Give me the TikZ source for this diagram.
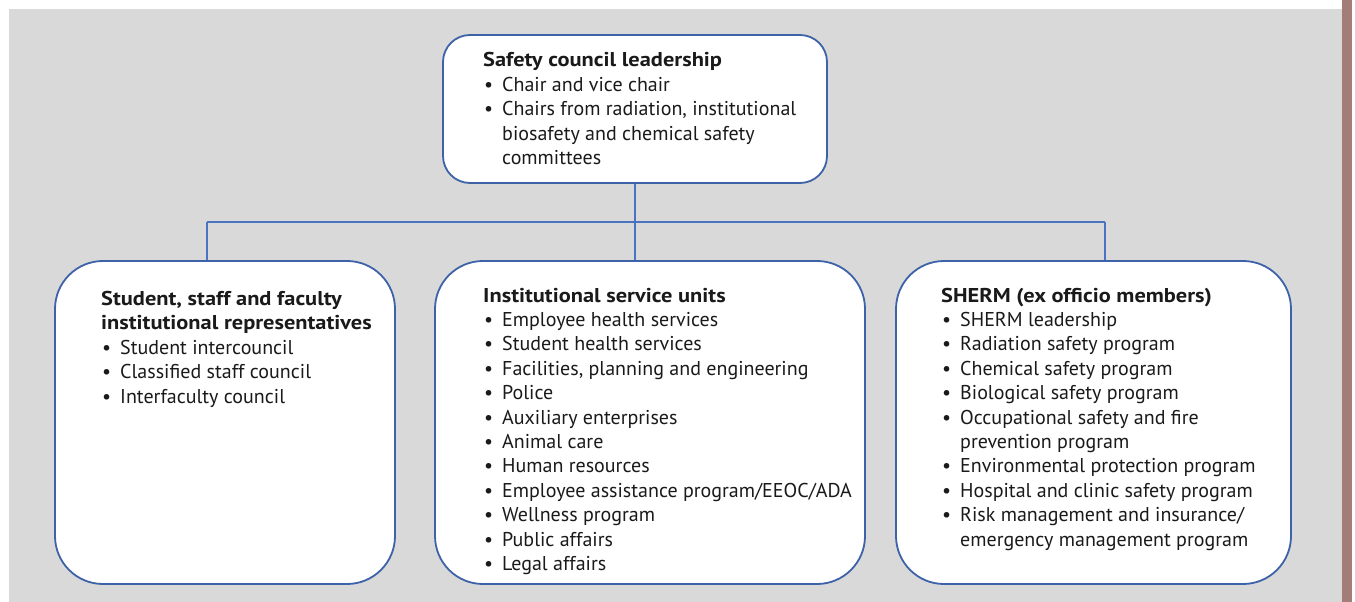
\documentclass[tikz,border=0pt]{standalone}
\usepackage{fontspec}
\setmainfont{PT Sans}[BoldFeatures={FakeStretch=1.12}]
\definecolor{bg}{HTML}{D9D9D9}
\definecolor{barc}{HTML}{A57D78}
\definecolor{boxblue}{HTML}{3D62A8}
\definecolor{lineblue}{HTML}{4A74C2}
\definecolor{textc}{HTML}{1A1A1A}
\newcommand{\bu}{\makebox[19bp][l]{\hspace{1bp}•}}
\newcommand{\hi}{\hspace*{19bp}}
\newcommand{\blk}[1]{\parbox[t]{420bp}{\raggedright #1}}
\begin{document}
\begin{tikzpicture}[x=1bp,y=-1bp,
  box/.style={draw=boxblue, line width=1.8bp, fill=white, rectangle, inner sep=0pt},
  conn/.style={draw=lineblue, line width=1.4bp},
  txt/.style={anchor=base west, inner sep=0pt, text=textc,
    font=\fontsize{20bp}{24.4bp}\selectfont}]
\useasboundingbox (0,0) rectangle (1355,602);
\fill[bg] (9,9) rectangle (1342,602);
\fill[barc] (1342,0) rectangle (1352,602);
% boxes
\node[box, rounded corners=27bp, minimum width=384bp, minimum height=148bp] (top) at (635,109) {};
\node[box, rounded corners=48bp, minimum width=340bp, minimum height=323bp] (left) at (225,422.5) {};
\node[box, rounded corners=48bp, minimum width=430bp, minimum height=323bp] (mid) at (650,422.5) {};
\node[box, rounded corners=48bp, minimum width=395bp, minimum height=323bp] (right) at (1093.5,422.5) {};
% connectors
\coordinate (jl) at (207,222);
\coordinate (jm) at (635,222);
\coordinate (jr) at (1105,222);
\draw[conn] (top.south) -- (jm);
\draw[conn] (jl) -- (jr);
\draw[conn] (jl) -- (jl |- left.north);
\draw[conn] (jm) -- (jm |- mid.north);
\draw[conn] (jr) -- (jr |- right.north);
% texts
\node[txt] (ttop) at (483,67) {\blk{\textbf{Safety council leadership}\\
\bu Chair and vice chair\\
\bu Chairs from radiation, institutional\\
\hi biosafety and chemical safety\\
\hi committees}};
\node[txt] (tleft) at (101,305.5) {\blk{\textbf{Student, staff and faculty}\\
\textbf{institutional representatives}\\
\bu Student intercouncil\\
\bu Classified staff council\\
\bu Interfaculty council}};
\node[txt] (tmid) at (483,302) {\blk{\textbf{Institutional service units}\\
\bu Employee health services\\
\bu Student health services\\
\bu Facilities, planning and engineering\\
\bu Police\\
\bu Auxiliary enterprises\\
\bu Animal care\\
\bu Human resources\\
\bu Employee assistance program/EEOC/ADA\\
\bu Wellness program\\
\bu Public affairs\\
\bu Legal affairs}};
\node[txt] (tright) at (941,302) {\blk{\textbf{SHERM (ex officio members)}\\
\bu SHERM leadership\\
\bu Radiation safety program\\
\bu Chemical safety program\\
\bu Biological safety program\\
\bu Occupational safety and fire\\
\hi prevention program\\
\bu Environmental protection program\\
\bu Hospital and clinic safety program\\
\bu Risk management and insurance/\\
\hi emergency management program}};
\end{tikzpicture}
\end{document}
